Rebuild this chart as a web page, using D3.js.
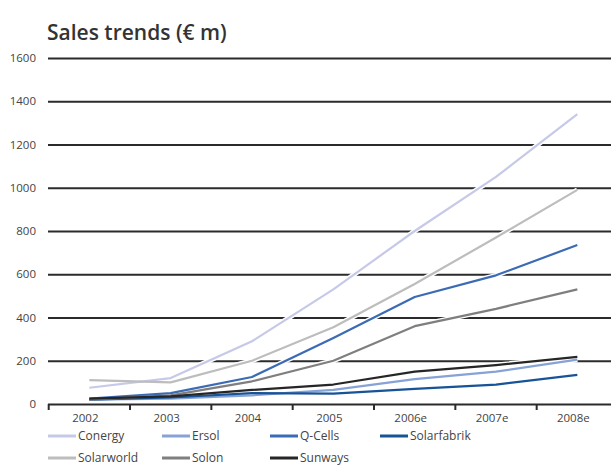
<!doctype html>
<html lang="en">
<head>
    <meta charset="utf-8">
    <title>Sales trends</title>
    <script src="https://cdn.jsdelivr.net/npm/d3@7/dist/d3.min.js"></script>
    <style>
        body { margin: 0; background: #fff; }
        svg text { font-family: "Open Sans", "Noto Sans", sans-serif; }
    </style>
</head>
<body>
    <svg id="chart" width="611" height="468"></svg>
    <script>
        // data (€ m)
        var years = ["2002", "2003", "2004", "2005", "2006e", "2007e", "2008e"];
        var conergy     = [75, 120, 290, 530, 800, 1050, 1340];
        var ersol       = [20, 25, 40, 65, 115, 150, 205];
        var qcells      = [25, 50, 125, 305, 495, 595, 735];
        var solarfabrik = [20, 30, 50, 48, 70, 90, 135];
        var solarworld  = [110, 100, 200, 355, 555, 770, 990];
        var solon       = [20, 40, 105, 200, 360, 440, 530];
        var sunways     = [25, 35, 65, 90, 150, 180, 218];
        var yTicks = [0, 200, 400, 600, 800, 1000, 1200, 1400, 1600];

        var series = [
            { name: "Conergy", values: conergy, color: "#c6c9e7" },
            { name: "Ersol", values: ersol, color: "#86a2d6" },
            { name: "Q-Cells", values: qcells, color: "#3b6bb4" },
            { name: "Solarfabrik", values: solarfabrik, color: "#175397" },
            { name: "Solarworld", values: solarworld, color: "#bdbdbd" },
            { name: "Solon", values: solon, color: "#7f7f7f" },
            { name: "Sunways", values: sunways, color: "#262626" }
        ];

        var svg = d3.select("#chart");
        var plotLeft = 48, plotRight = 611, plotTop = 58, plotBottom = 404;

        var x = d3.scaleBand().domain(years).range([48.7, 618]);
        var y = d3.scaleLinear().domain([0, 1600]).range([plotBottom, plotTop]);

        // title
        svg.append("text")
            .attr("x", 47).attr("y", 40)
            .style("font-size", "21px").style("font-weight", "600")
            .style("fill", "#333")
            .text("Sales trends (€ m)");

        // y axis with gridlines
        var yAxis = svg.append("g")
            .attr("transform", "translate(" + plotLeft + ",0)")
            .call(d3.axisLeft(y).tickValues(yTicks).tickFormat(d3.format("d"))
                .tickSize(-(plotRight - plotLeft)).tickPadding(12));
        yAxis.select(".domain").remove();
        yAxis.selectAll(".tick line").attr("stroke", "#2b2b2b").attr("stroke-width", 2.2);
        yAxis.selectAll(".tick text").style("font-size", "11.5px").style("fill", "#444");

        // x axis ticks at band edges
        svg.append("g").selectAll("line")
            .data(years)
            .enter().append("line")
            .attr("x1", function (d) { return x(d); })
            .attr("x2", function (d) { return x(d); })
            .attr("y1", plotBottom).attr("y2", plotBottom + 6)
            .attr("stroke", "#2b2b2b").attr("stroke-width", 2);

        var xAxis = svg.append("g")
            .attr("transform", "translate(-4," + plotBottom + ")")
            .call(d3.axisBottom(x).tickSize(0).tickPadding(10));
        xAxis.select(".domain").remove();
        xAxis.selectAll(".tick text").style("font-size", "11.5px").style("fill", "#444");

        var line = d3.line()
            .x(function (d, i) { return x(years[i]) + x.bandwidth() / 2; })
            .y(function (d) { return y(d); });

        // white halo under the lines so the gridlines break where they cross
        svg.append("g").selectAll("path")
            .data(series)
            .enter().append("path")
            .attr("d", function (d) { return line(d.values); })
            .attr("fill", "none")
            .attr("stroke", "#fff")
            .attr("stroke-width", 5);

        svg.append("g").selectAll("path")
            .data(series)
            .enter().append("path")
            .attr("d", function (d) { return line(d.values); })
            .attr("fill", "none")
            .attr("stroke", function (d) { return d.color; })
            .attr("stroke-width", 2.2)
            .attr("stroke-linejoin", "round");

        // legend, two rows
        var legendPos = [
            [48, 436], [162, 436], [270, 436], [380, 436],
            [48, 458], [162, 458], [270, 458]
        ];
        var legend = svg.append("g").selectAll("g")
            .data(series)
            .enter().append("g")
            .attr("transform", function (d, i) {
                return "translate(" + legendPos[i][0] + "," + legendPos[i][1] + ")";
            });
        legend.append("line")
            .attr("x1", 0).attr("x2", 28)
            .attr("stroke", function (d) { return d.color; })
            .attr("stroke-width", 3);
        legend.append("text")
            .attr("x", 30).attr("dy", "0.35em")
            .style("font-size", "12px").style("fill", "#444")
            .text(function (d) { return d.name; });
    </script>
</body>
</html>
